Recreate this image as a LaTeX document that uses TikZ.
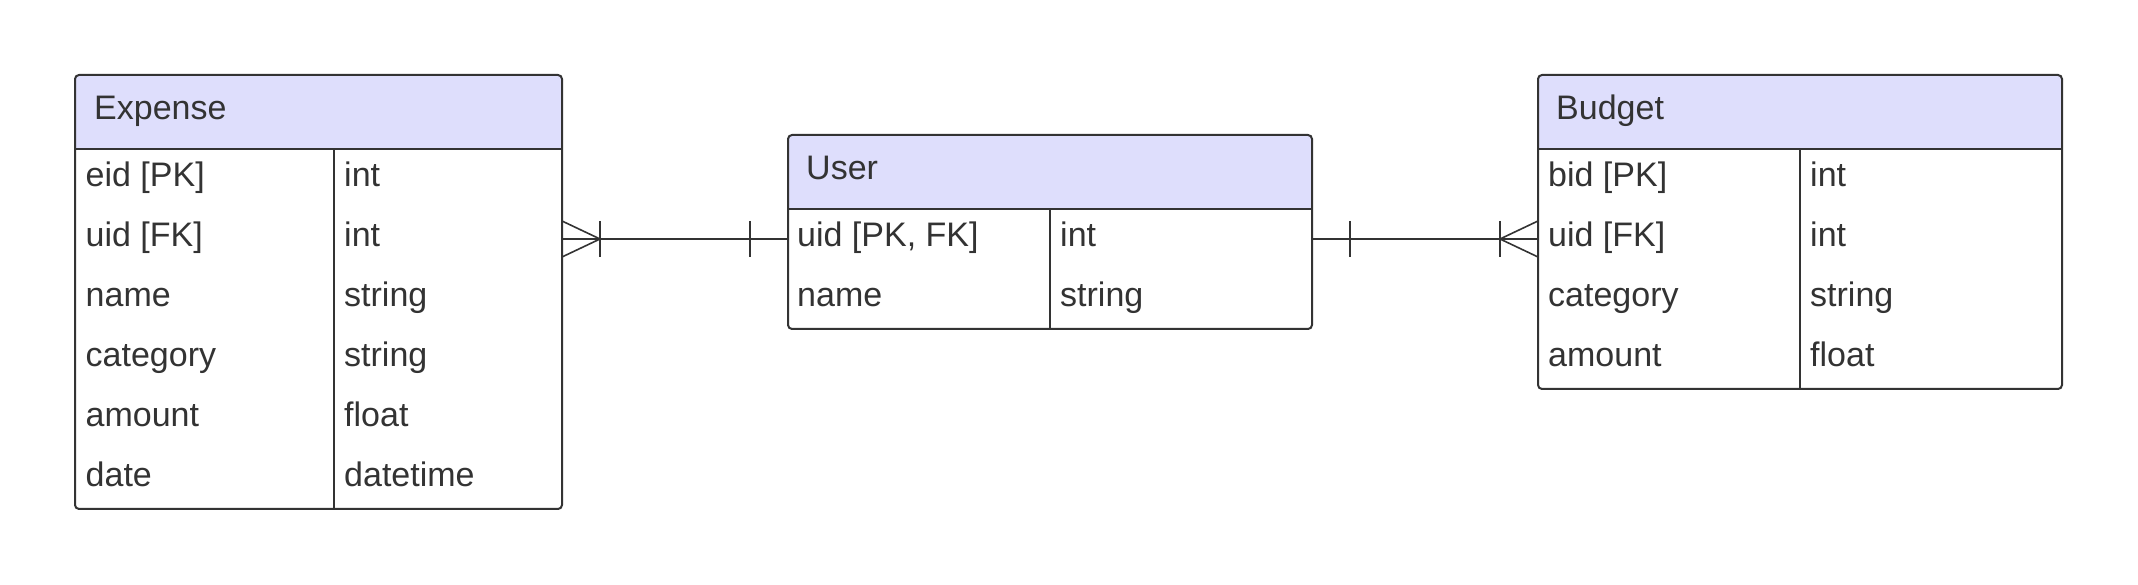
\documentclass[tikz,border=0pt]{standalone}
\usepackage{fontspec}
\setmainfont{Liberation Sans}
\usepackage{xcolor}
\usepackage{tikz}

\definecolor{erline}{RGB}{51,51,51}
\definecolor{erhead}{RGB}{222,222,252}

\begin{document}
\begin{tikzpicture}[x=1pt, y=1pt,
	entity/.style={draw=erline, line width=2pt, rounded corners=4pt, fill=white, outer sep=0pt, anchor=north west,
		path picture={\fill[erhead] (path picture bounding box.north west) rectangle ([yshift=-74pt]path picture bounding box.north east);}},
	rule/.style={draw=erline, line width=2pt},
	rel/.style={draw=erline, line width=1.6pt},
	lbl/.style={text=erline, anchor=base west, inner sep=0pt, font=\fontsize{34}{40}\selectfont}]
	\useasboundingbox (0,0) rectangle (2138,585);

	% Expense
	\node[entity, minimum width=487pt, minimum height=434pt] (expense) at (75,510) {};
	\draw[rule] ([yshift=-74pt]expense.north west) -- ([yshift=-74pt]expense.north east);
	\draw[rule] ([xshift=259pt, yshift=-74pt]expense.north west) -- ([xshift=259pt]expense.south west);
	\node[lbl] (exp-title) at (94,465) {Expense};
	\node[lbl] (exp-eid) at (85.5,398) {eid [PK]};
	\node[lbl] (exp-eid-t) at (344,398) {int};
	\node[lbl] (exp-uid) at (85.5,338) {uid [FK]};
	\node[lbl] (exp-uid-t) at (344,338) {int};
	\node[lbl] (exp-name) at (85.5,278) {name};
	\node[lbl] (exp-name-t) at (344,278) {string};
	\node[lbl] (exp-cat) at (85.5,218) {category};
	\node[lbl] (exp-cat-t) at (344,218) {string};
	\node[lbl] (exp-amt) at (85.5,158) {amount};
	\node[lbl] (exp-amt-t) at (344,158) {float};
	\node[lbl] (exp-date) at (85.5,98) {date};
	\node[lbl] (exp-date-t) at (344,98) {datetime};

	% User
	\node[entity, minimum width=524pt, minimum height=194pt] (user) at (788,450) {};
	\draw[rule] ([yshift=-74pt]user.north west) -- ([yshift=-74pt]user.north east);
	\draw[rule] ([xshift=262pt, yshift=-74pt]user.north west) -- ([xshift=262pt]user.south west);
	\node[lbl] (usr-title) at (806,405) {User};
	\node[lbl] (usr-uid) at (797,338) {uid [PK, FK]};
	\node[lbl] (usr-uid-t) at (1060,338) {int};
	\node[lbl] (usr-name) at (797,278) {name};
	\node[lbl] (usr-name-t) at (1060,278) {string};

	% Budget
	\node[entity, minimum width=524pt, minimum height=314pt] (budget) at (1538,510) {};
	\draw[rule] ([yshift=-74pt]budget.north west) -- ([yshift=-74pt]budget.north east);
	\draw[rule] ([xshift=262pt, yshift=-74pt]budget.north west) -- ([xshift=262pt]budget.south west);
	\node[lbl] (bud-title) at (1556,465) {Budget};
	\node[lbl] (bud-bid) at (1548,398) {bid [PK]};
	\node[lbl] (bud-bid-t) at (1810,398) {int};
	\node[lbl] (bud-uid) at (1548,338) {uid [FK]};
	\node[lbl] (bud-uid-t) at (1810,338) {int};
	\node[lbl] (bud-cat) at (1548,278) {category};
	\node[lbl] (bud-cat-t) at (1810,278) {string};
	\node[lbl] (bud-amt) at (1548,218) {amount};
	\node[lbl] (bud-amt-t) at (1810,218) {float};

	% relations
	\coordinate (e-uid) at ([yshift=-164pt]expense.north east);
	\coordinate (u-uid-w) at ([yshift=-104pt]user.north west);
	\coordinate (u-uid-e) at ([yshift=-104pt]user.north east);
	\coordinate (b-uid) at ([yshift=-164pt]budget.north west);
	\draw[rel] (e-uid) -- (u-uid-w);
	\draw[rel] ([yshift=18pt]e-uid) -- ([xshift=38pt]e-uid) -- ([yshift=-18pt]e-uid);
	\draw[rel] ([xshift=38pt, yshift=18pt]e-uid) -- ([xshift=38pt, yshift=-18pt]e-uid);
	\draw[rel] ([xshift=-38pt, yshift=18pt]u-uid-w) -- ([xshift=-38pt, yshift=-18pt]u-uid-w);
	\draw[rel] (u-uid-e) -- (b-uid);
	\draw[rel] ([xshift=38pt, yshift=18pt]u-uid-e) -- ([xshift=38pt, yshift=-18pt]u-uid-e);
	\draw[rel] ([yshift=18pt]b-uid) -- ([xshift=-38pt]b-uid) -- ([yshift=-18pt]b-uid);
	\draw[rel] ([xshift=-38pt, yshift=18pt]b-uid) -- ([xshift=-38pt, yshift=-18pt]b-uid);
\end{tikzpicture}
\end{document}
